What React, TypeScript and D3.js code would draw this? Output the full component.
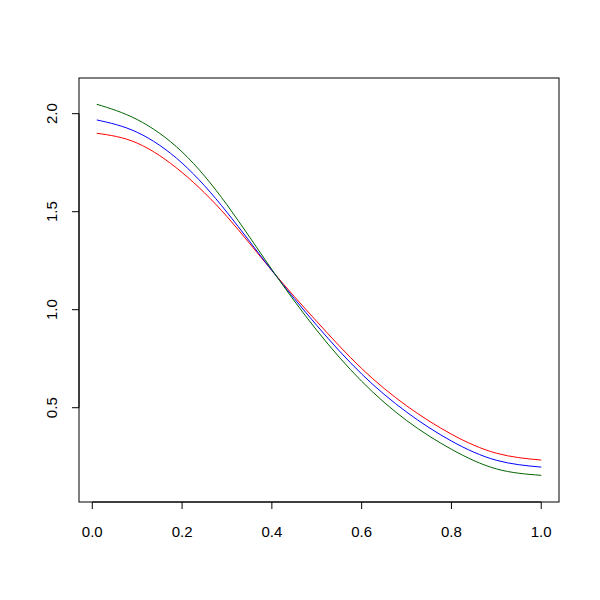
import React, { useEffect } from "react";
import * as d3 from "d3";

const xs = [0.01, 0.1, 0.2, 0.3, 0.4, 0.5, 0.6, 0.7, 0.8, 0.9, 1.0];
const redValues = [1.9, 1.85, 1.7, 1.475, 1.2, 0.94, 0.7, 0.51, 0.365, 0.268, 0.233];
const blueValues = [1.968, 1.905, 1.748, 1.497, 1.2, 0.92, 0.672, 0.478, 0.33, 0.232, 0.197];
const greenValues = [2.048, 1.97, 1.805, 1.535, 1.205, 0.895, 0.635, 0.435, 0.288, 0.188, 0.155];
const xTicks = [0, 0.2, 0.4, 0.6, 0.8, 1.0];
const yTicks = [0.5, 1.0, 1.5, 2.0];

const seriesList = [
  { name: "red", values: redValues, color: "#FF0000" },
  { name: "blue", values: blueValues, color: "#0000FF" },
  { name: "green", values: greenValues, color: "#006400" },
];

export default function App() {
  useEffect(() => {
    document.body.style.margin = "0";
  }, []);

  const W = 600;
  const H = 600;
  const left = 79, right = 559, top = 78, bottom = 502;

  const x = d3.scaleLinear().domain([-0.0296, 1.0396]).range([left, right]);
  const y = d3.scaleLinear().domain([0.019, 2.182]).range([bottom, top]);

  const line = d3
    .line<[number, number]>()
    .x((d) => x(d[0]))
    .y((d) => y(d[1]))
    .curve(d3.curveNatural);

  const font = "'Liberation Sans', Arial, Helvetica, sans-serif";

  return (
    <svg width={W} height={H} style={{ display: "block", background: "#fff" }}>
      <rect x={0} y={0} width={W} height={H} fill="#fff" />
      {seriesList.map((s) => (
        <path
          key={s.name}
          d={line(xs.map((xv, i) => [xv, s.values[i]] as [number, number])) || ""}
          fill="none"
          stroke={s.color}
          strokeWidth={1}
        />
      ))}
      <rect x={left} y={top} width={right - left} height={bottom - top} fill="none" stroke="#000" strokeWidth={1} />
      {/* x axis */}
      <line x1={x(xTicks[0])} x2={x(xTicks[xTicks.length - 1])} y1={bottom} y2={bottom} stroke="#000" />
      {xTicks.map((t) => (
        <g key={"x" + t}>
          <line x1={x(t)} x2={x(t)} y1={bottom} y2={bottom + 7} stroke="#000" />
          <text x={x(t)} y={537} textAnchor="middle" fontFamily={font} fontSize={15} fill="#000">
            {t.toFixed(1)}
          </text>
        </g>
      ))}
      {/* y axis */}
      <line x1={left} x2={left} y1={y(yTicks[0])} y2={y(yTicks[yTicks.length - 1])} stroke="#000" />
      {yTicks.map((t) => (
        <g key={"y" + t}>
          <line x1={left} x2={left - 7} y1={y(t)} y2={y(t)} stroke="#000" />
          <text
            transform={`translate(57, ${y(t)}) rotate(-90)`}
            textAnchor="middle"
            fontFamily={font}
            fontSize={15}
            fill="#000"
          >
            {t.toFixed(1)}
          </text>
        </g>
      ))}
    </svg>
  );
}
